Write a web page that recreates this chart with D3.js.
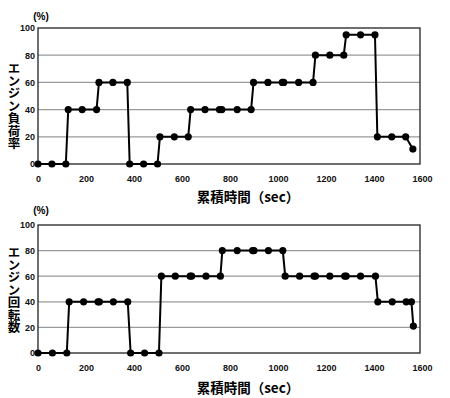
<!DOCTYPE html>
<html>
<head>
<meta charset="utf-8">
<script src="https://cdn.jsdelivr.net/npm/d3@7"></script>
<style>
  body { margin: 0; background: #fff; }
  .tick text { font-family: "Liberation Sans", Arial, sans-serif; font-weight: bold; font-size: 9px; }
</style>
</head>
<body>
<script>
var width = 450,
    height = 398;

// sample times (sec) and values (%) for each chart
var loadTimes = [0, 58, 116, 126, 184, 244, 254, 312, 372, 382, 440, 498, 508, 568, 626, 636, 696, 756, 766, 830, 888, 898, 958, 1018, 1024, 1086, 1146, 1156, 1216, 1274, 1284, 1344, 1404, 1414, 1474, 1532, 1562];
var loadValues = [0, 0, 0, 40, 40, 40, 60, 60, 60, 0, 0, 0, 20, 20, 20, 40, 40, 40, 40, 40, 40, 60, 60, 60, 60, 60, 60, 80, 80, 80, 95, 95, 95, 20, 20, 20, 11];

var speedTimes = [0, 60, 120, 130, 190, 250, 256, 314, 374, 386, 444, 504, 514, 572, 634, 640, 700, 760, 768, 830, 894, 900, 960, 1020, 1030, 1090, 1150, 1156, 1216, 1278, 1284, 1344, 1406, 1416, 1476, 1534, 1556, 1564];
var speedValues = [0, 0, 0, 40, 40, 40, 40, 40, 40, 0, 0, 0, 60, 60, 60, 60, 60, 60, 80, 80, 80, 80, 80, 80, 60, 60, 60, 60, 60, 60, 60, 60, 60, 40, 40, 40, 40, 21];

var xTicks = [0, 200, 400, 600, 800, 1000, 1200, 1400, 1600];
var yTicks = [0, 20, 40, 60, 80, 100];

var svg = d3.select("body").append("svg")
    .attr("width", width)
    .attr("height", height)
    .style("background-color", "#fff");

function drawPanel(times, values, top, bottom, ylabel, labelMid, titleY, pctY) {
    var x = d3.scaleLinear().domain([0, 1600]).range([38, 422]);
    var y = d3.scaleLinear().domain([0, 100]).range([bottom, top]);
    var g = svg.append("g");

    // grid lines
    g.selectAll(".grid")
        .data([20, 40, 60, 80])
        .enter()
        .append("line")
        .attr("x1", x(0)).attr("x2", x(1600) - 2)
        .attr("y1", d => y(d)).attr("y2", d => y(d))
        .attr("stroke", "#9a9a9a")
        .attr("stroke-width", 1.2);

    // frame
    g.append("rect")
        .attr("x", x(0)).attr("y", y(100))
        .attr("width", x(1600) - 2 - x(0))
        .attr("height", y(0) - y(100))
        .attr("fill", "none")
        .attr("stroke", "#222")
        .attr("stroke-width", 1.3);

    var xAxis = d3.axisBottom(x).tickValues(xTicks).tickFormat(d3.format("d")).tickSize(0).tickPadding(12);
    g.append("g").attr("transform", "translate(0," + y(0) + ")").call(xAxis)
        .call(a => a.select(".domain").remove());

    var yAxis = d3.axisLeft(y).tickValues(yTicks).tickFormat(d3.format("d")).tickSize(0).tickPadding(3);
    g.append("g").attr("transform", "translate(" + x(0) + ",0)").call(yAxis)
        .call(a => a.select(".domain").remove());

    g.selectAll(".tick text").attr("fill", "#111");

    var pts = times.map((t, i) => [t, values[i]]);
    var line = d3.line().x(d => x(d[0])).y(d => y(d[1]));

    g.append("path")
        .datum(pts)
        .attr("d", line)
        .attr("fill", "none")
        .attr("stroke", "#000")
        .attr("stroke-width", 2);

    g.selectAll(".dot")
        .data(pts)
        .enter()
        .append("circle")
        .attr("cx", d => x(d[0]))
        .attr("cy", d => y(d[1]))
        .attr("r", 3.6)
        .attr("fill", "#000");

    // (%)
    g.append("text")
        .attr("x", 41).attr("y", pctY)
        .attr("text-anchor", "middle")
        .style("font-family", "Liberation Sans, Arial, sans-serif")
        .style("font-weight", "bold")
        .style("font-size", "10px")
        .text("(%)");

    // vertical y label
    g.append("text")
        .attr("x", 14)
        .attr("y", labelMid)
        .attr("text-anchor", "middle")
        .style("writing-mode", "vertical-rl")
        .style("text-orientation", "upright")
        .style("font-family", "Noto Sans CJK JP, sans-serif")
        .style("font-weight", "bold")
        .style("font-size", "12.5px")
        .text(ylabel);

    // x title
    g.append("text")
        .attr("x", 248).attr("y", titleY)
        .attr("text-anchor", "middle")
        .style("font-family", "Noto Sans CJK JP, sans-serif")
        .style("font-weight", "bold")
        .style("font-size", "13.5px")
        .text("累積時間（sec）");
}

drawPanel(loadTimes, loadValues, 28, 164, "エンジン負荷率", 106, 202, 20);
drawPanel(speedTimes, speedValues, 225, 353, "エンジン回転数", 290, 393, 214);
</script>
</body>
</html>
